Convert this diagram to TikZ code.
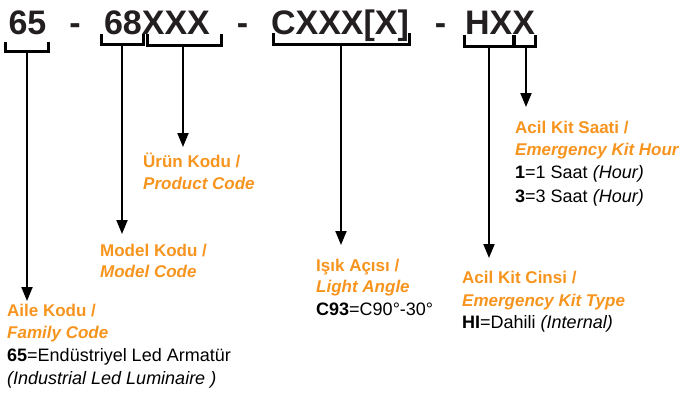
\documentclass[tikz,border=0pt]{standalone}
\usepackage{fontspec}
\setmainfont{Liberation Sans}
\usetikzlibrary{arrows.meta}
\definecolor{codeorange}{HTML}{F7941E}
\definecolor{codedark}{HTML}{231F20}
\tikzset{
  x=1pt, y=-1pt,
  titletext/.style={inner sep=0pt, anchor=base, text=codedark, font=\fontsize{34}{34}\selectfont\bfseries},
  headtext/.style={inner sep=0pt, anchor=base west, text=codeorange, font=\fontsize{17}{17}\selectfont\bfseries},
  headit/.style={headtext, font=\fontsize{17}{17}\selectfont\bfseries\itshape},
  bodytext/.style={inner sep=0pt, anchor=base west, text=black, font=\fontsize{18}{18}\selectfont},
  bracketline/.style={draw=black, line width=3pt, line join=miter, line cap=butt},
  connector/.style={draw=black, line width=2pt, -{Triangle[width=11pt,length=14pt]}}
}
\begin{document}
\begin{tikzpicture}
\useasboundingbox (0,0) rectangle (682,394);
% title
\node[titletext] (t65) at (27.5,34) {65};
\node[titletext] (d1) at (75,34) {-};
\node[titletext] (t68) at (157,34) {68XXX};
\node[titletext] (d2) at (242.5,34) {-};
\node[titletext] (tc) at (340,34) {CXXX[X]};
\node[titletext] (d3) at (440.5,34) {-};
\node[titletext] (th) at (500,34) {HXX};
% brackets
\draw[bracketline] (5,42) -- (5,51.5) -- (48,51.5) -- (48,42);
\draw[bracketline] (101,34) -- (101,44.5) -- (143,44.5) -- (143,34);
\draw[bracketline] (147,34) -- (147,45) -- (221,45) -- (221,34);
\draw[bracketline] (273,33) -- (273,44.5) -- (409,44.5) -- (409,33);
\draw[bracketline] (464,35) -- (464,46.5) -- (535,46.5) -- (535,35);
\draw[draw=black, line width=4.5pt] (514,35) -- (514,48);
% bracket feet
\coordinate (b65) at (27,53);
\coordinate (b68) at (122,46);
\coordinate (bxx) at (183,46.5);
\coordinate (bc) at (341,46);
\coordinate (bh) at (489,48);
\coordinate (bx) at (526,48);
% arrow tips
\coordinate (p65) at (27,301);
\coordinate (p68) at (122,234);
\coordinate (pxx) at (183,147);
\coordinate (pc) at (341,245);
\coordinate (ph) at (489,258);
\coordinate (px) at (526,107);
% labels
\node[headtext] (urun1) at (143,167) {Ürün Kodu /};
\node[headit] (urun2) at (143,189) {Product Code};
\node[headtext] (model1) at (100,256) {Model Kodu /};
\node[headit] (model2) at (100,277) {Model Code};
\node[headtext] (aile1) at (7,316) {Aile Kodu /};
\node[headit] (aile2) at (7,338) {Family Code};
\node[bodytext] (aile3) at (7,361) {\textbf{65}=Endüstriyel Led Armatür};
\node[bodytext] (aile4) at (7,384) {\textit{(Industrial Led Luminaire )}};
\node[headtext] (isik1) at (316,271) {Işık Açısı /};
\node[headit] (isik2) at (316,292) {Light Angle};
\node[bodytext] (isik3) at (316,315) {\textbf{C93}=C90°-30°};
\node[headtext] (cins1) at (462,283) {Acil Kit Cinsi /};
\node[headit] (cins2) at (462,306) {Emergency Kit Type};
\node[bodytext] (cins3) at (462,328) {\textbf{HI}=Dahili \textit{(Internal)}};
\node[headtext] (saat1) at (515,133) {Acil Kit Saati /};
\node[headit] (saat2) at (515,155) {Emergency Kit Hour};
\node[bodytext] (saat3) at (515,178) {\textbf{1}=1 Saat \textit{(Hour)}};
\node[bodytext] (saat4) at (515,202) {\textbf{3}=3 Saat \textit{(Hour)}};
% connectors
\draw[connector] (b65) -- (p65);
\draw[connector] (b68) -- (p68);
\draw[connector] (bxx) -- (pxx);
\draw[connector] (bc) -- (pc);
\draw[connector] (bh) -- (ph);
\draw[connector] (bx) -- (px);
\end{tikzpicture}
\end{document}
